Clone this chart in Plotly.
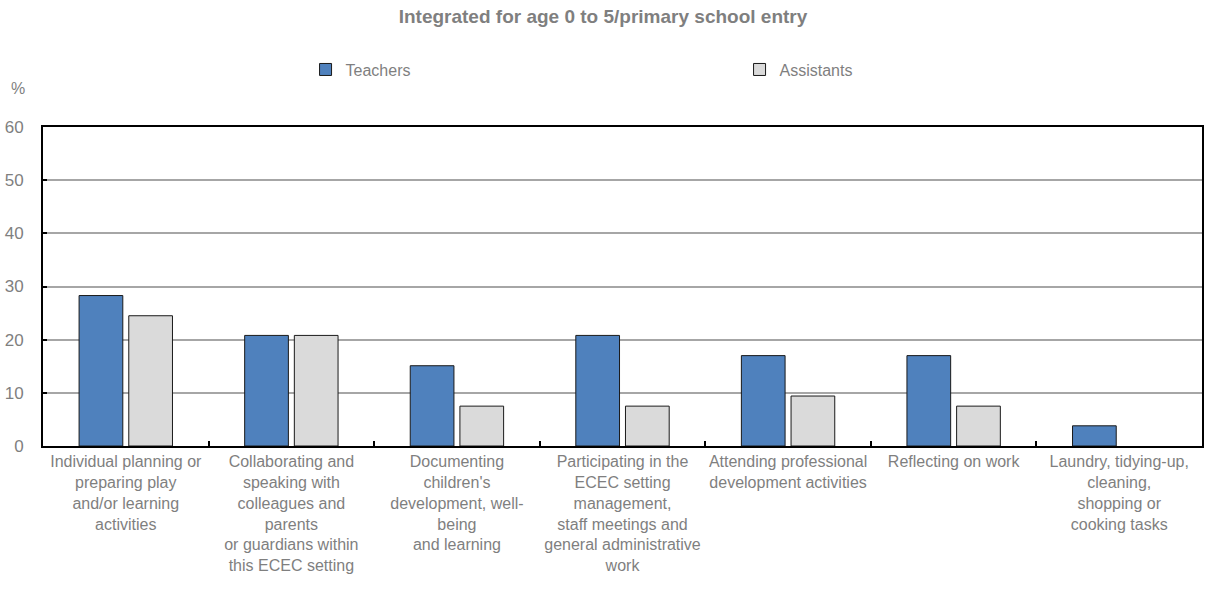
import plotly.graph_objects as go

categories = [
    "Individual planning or<br>preparing play<br>and/or learning<br>activities",
    "Collaborating and<br>speaking with<br>colleagues and<br>parents<br>or guardians within<br>this ECEC setting",
    "Documenting<br>children's<br>development, well-<br>being<br>and learning",
    "Participating in the<br>ECEC setting<br>management,<br>staff meetings and<br>general administrative<br>work",
    "Attending professional<br>development activities",
    "Reflecting on work",
    "Laundry, tidying-up,<br>cleaning,<br>shopping or<br>cooking tasks",
]
teachers = [28.3, 20.8, 15.1, 20.8, 17.0, 17.0, 3.8]
assistants = [24.5, 20.8, 7.5, 7.5, 9.4, 7.5, None]
y_ticks = [0, 10, 20, 30, 40, 50, 60]

FONT = "Liberation Sans, Arial, sans-serif"
GREY_TEXT = "#7f7f7f"

fig = go.Figure()
fig.add_trace(go.Bar(
    name="Teachers", x=categories, y=teachers,
    marker=dict(color="#4f81bd", line=dict(color="#1a1a1a", width=1)),
))
fig.add_trace(go.Bar(
    name="Assistants", x=categories, y=assistants,
    marker=dict(color="#dadada", line=dict(color="#1a1a1a", width=1)),
))

fig.update_layout(
    width=1206, height=592,
    margin=dict(l=43, r=2, t=127, b=146),
    paper_bgcolor="white", plot_bgcolor="white",
    font=dict(family=FONT, size=16, color=GREY_TEXT),
    barmode="group", bargap=0.4, bargroupgap=0.12,
    title=dict(
        text="<b>Integrated for age 0 to 5/primary school entry</b>",
        x=0.5, xanchor="center", y=0.972, yanchor="middle",
        font=dict(family=FONT, size=19, color=GREY_TEXT),
    ),
    legend=dict(
        orientation="h", x=(306 - 43) / (1206 - 45), y=1.18, yanchor="middle",
        font=dict(family=FONT, size=16, color=GREY_TEXT),
        itemwidth=30, traceorder="normal",
        entrywidth=389, entrywidthmode="pixels",
        bgcolor="rgba(0,0,0,0)",
    ),
    annotations=[dict(
        text="%", xref="paper", yref="paper", x=-0.022, y=1.12,
        xanchor="center", yanchor="middle", showarrow=False,
        font=dict(family=FONT, size=16, color=GREY_TEXT),
    )],
)

fig.update_xaxes(
    showline=True, linecolor="black", linewidth=2, mirror=True,
    ticks="inside", tickson="boundaries", ticklen=5, tickcolor="black", tickwidth=2,
    showgrid=False, tickangle=0,
    tickfont=dict(family=FONT, size=16, color=GREY_TEXT),
)
fig.update_yaxes(
    range=[0, 60], tickvals=y_ticks,
    showline=True, linecolor="black", linewidth=2, mirror=True,
    ticks="inside", ticklen=4, tickcolor="black", tickwidth=2,
    showgrid=True, gridcolor="#a6a6a6", gridwidth=1.5,
    zeroline=False, ticklabelstandoff=14,
    tickfont=dict(family=FONT, size=17, color=GREY_TEXT),
)

fig.write_html("out.html")
